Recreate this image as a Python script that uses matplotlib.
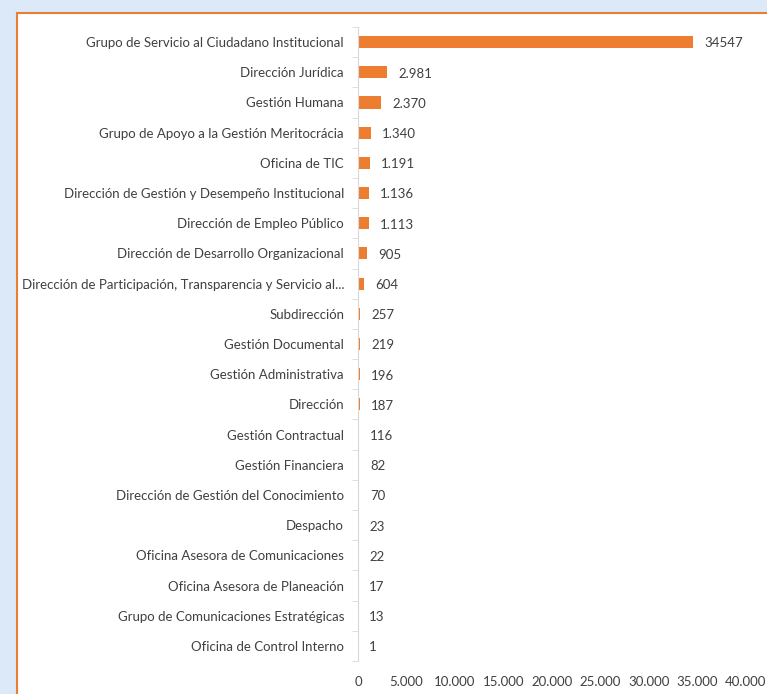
import matplotlib.pyplot as plt
from matplotlib.patches import Rectangle
from matplotlib.ticker import FuncFormatter, FixedLocator
import numpy as np

# datos
dependencias = [
    "Grupo de Servicio al Ciudadano Institucional",
    "Dirección Jurídica",
    "Gestión Humana",
    "Grupo de Apoyo a la Gestión Meritocrácia",
    "Oficina de TIC",
    "Dirección de Gestión y Desempeño Institucional",
    "Dirección de Empleo Público",
    "Dirección de Desarrollo Organizacional",
    "Dirección de Participación, Transparencia y Servicio al...",
    "Subdirección",
    "Gestión Documental",
    "Gestión Administrativa",
    "Dirección",
    "Gestión Contractual",
    "Gestión Financiera",
    "Dirección de Gestión del Conocimiento",
    "Despacho",
    "Oficina Asesora de Comunicaciones",
    "Oficina Asesora de Planeación",
    "Grupo de Comunicaciones Estratégicas",
    "Oficina de Control Interno",
]
valores = [34547, 2981, 2370, 1340, 1191, 1136, 1113, 905, 604, 257, 219,
           196, 187, 116, 82, 70, 23, 22, 17, 13, 1]
etiquetas = ["34547", "2.981", "2.370", "1.340", "1.191", "1.136", "1.113",
             "905", "604", "257", "219", "196", "187", "116", "82", "70",
             "23", "22", "17", "13", "1"]
ticks_x = [0, 5000, 10000, 15000, 20000, 25000, 30000, 35000, 40000]

naranja = "#ED7D31"
gris = "#404040"
plt.rcParams['font.family'] = ['Lato', 'DejaVu Sans']

fig = plt.figure(figsize=(7.67, 6.94), dpi=100)
fig.patch.set_facecolor("#DCE9F8")

# panel blanco con borde naranja
fig.patches.append(Rectangle((17 / 767, -0.1), 1.2, 1.1 - 13 / 694,
                             transform=fig.transFigure, facecolor="white",
                             edgecolor=naranja, linewidth=1.5, zorder=-10))

ax = fig.add_axes([358 / 767, 33 / 694, 388 / 767, 634 / 694])
ax.set_facecolor("none")
ax.set_zorder(5)

y = np.arange(len(valores))
ax.barh(y, valores, height=0.4, color=naranja)
ax.set_ylim(len(valores) - 0.5, -0.5)
ax.set_xlim(0, 40000)

for yi, v, t in zip(y, valores, etiquetas):
    ax.annotate(t, (v, yi), xytext=(8, -1), textcoords="offset points",
                va="center", ha="left", fontsize=9.5, color=gris)

ax.set_yticks(y)
ax.set_yticklabels(dependencias, fontsize=9.5, color=gris)
ax.yaxis.set_minor_locator(FixedLocator(np.arange(-0.5, len(valores), 1)))
ax.tick_params(axis="y", which="major", length=0, pad=10)
ax.tick_params(axis="y", which="minor", length=4, color="#D9D9D9")

ax.xaxis.set_major_locator(FixedLocator(ticks_x))
ax.xaxis.set_major_formatter(FuncFormatter(lambda v, p: f"{int(v):,}".replace(",", ".")))
ax.tick_params(axis="x", length=0, pad=11, labelsize=9.5, labelcolor=gris)

for s in ["top", "right", "bottom"]:
    ax.spines[s].set_visible(False)
ax.spines["left"].set_color("#D9D9D9")

fig.savefig("out.png", dpi=100, facecolor=fig.get_facecolor())
